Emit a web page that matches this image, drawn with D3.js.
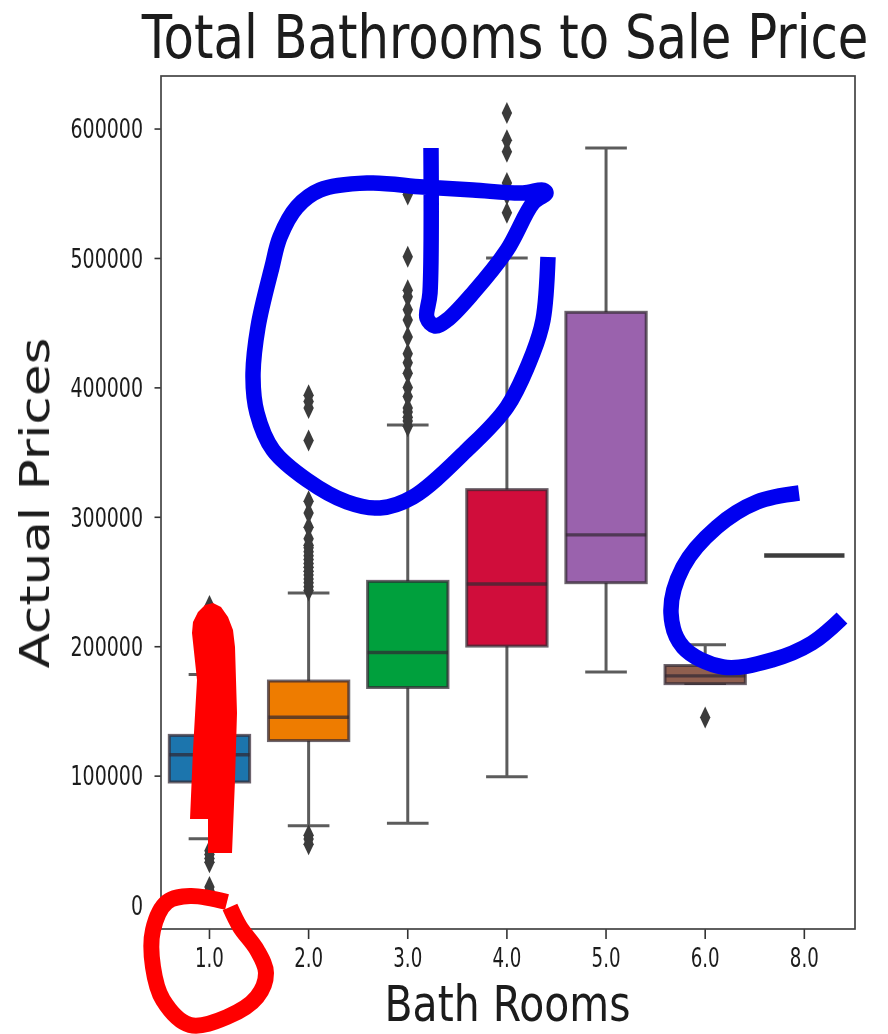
<!DOCTYPE html>
<html>
<head>
<meta charset="utf-8">
<script src="https://cdn.jsdelivr.net/npm/d3@7"></script>
<style>
  html, body { margin: 0; padding: 0; background: #fff; }
  svg { display: block; }
  text { font-family: "DejaVu Sans", sans-serif; fill: #1a1a1a; }
</style>
</head>
<body>
<div id="chart"></div>
<script>
// 1: DATA
const categories = ["1.0", "2.0", "3.0", "4.0", "5.0", "6.0", "8.0"];
const boxColors = ["#1f74ad", "#ee7b00", "#00a03e", "#d0103a", "#9a62ad", "#8f5f50", "#555555"];
const q1 = [95100, 127100, 168100, 200100, 249100, 171100, 270100];
const medians = [116100, 145100, 195100, 248100, 286000, 177100, 270100];
const q3 = [131100, 173100, 250100, 321000, 458000, 185100, 270100];
const whiskerLow = [51200, 61200, 63200, 99100, 180100, 171100, 270100];
const whiskerHigh = [178100, 241100, 371000, 500000, 585000, 201100, 270100];
const outliers = [
  [11000, 14000, 33000, 36000, 39000, 42000, 224000, 231000],
  [47000, 51000, 54000, 243000, 246000, 249000, 252000, 255000, 258000, 261000, 264000, 267000, 270000, 273000, 276000, 278000, 283000, 292000, 303000, 312000, 359000, 384000, 389000, 394000],
  [370000, 374000, 377000, 381000, 384000, 393000, 400000, 411000, 419000, 426000, 439000, 452000, 460000, 470000, 475000, 501000, 549000],
  [535000, 549000, 558000, 582000, 591000, 612000],
  [],
  [145000],
  []
];
const yTicks = [0, 100000, 200000, 300000, 400000, 500000, 600000];

// hand drawn marks over the chart, page pixels
const blueLoop = [[548,257],[543,320],[533,353],[507,407],[467,450],[413,497],[380,508],[347,502],[307,480],[273,450],[257,413],[253,377],[258,327],[272,267],[280,237],[297,207],[320,190],[367,183],[423,187],[473,190],[523,193],[543,190],[546,193],[533,203],[507,250],[473,293],[447,320],[435,326],[427,318],[430,293],[431,148]];
const blueArc = [[799,493],[757,502],[717,527],[683,567],[671,613],[683,647],[723,667],[772,660],[812,643],[842,618]];
const redCircle = [[227,902],[190,896],[167,902],[153,930],[153,967],[163,1000],[190,1025],[227,1017],[257,997],[266,973],[257,950],[240,927],[230,907]];
const redBlob = [[190,819],[208,819],[208,853],[232,853],[235,780],[237,713],[235,647],[233,630],[228,617],[221,607],[213,603],[205,605],[198,612],[193,622],[192,633],[197,680],[193,750]];

// 2: SIZES
const margin = { top: 76, right: 33, bottom: 105, left: 161 };
const width = 888 - margin.left - margin.right;
const height = 1034 - margin.top - margin.bottom;

const root = d3.select("#chart").append("svg")
    .attr("width", 888)
    .attr("height", 1034);

// the source is a blurry screenshot
root.append("defs").append("filter").attr("id", "soft")
    .append("feGaussianBlur").attr("stdDeviation", 0.55);

const plot = root.append("g")
    .attr("filter", "url(#soft)");

const svg = plot.append("g")
    .attr("transform", `translate(${margin.left},${margin.top})`);

// 3: SCALES
const xScale = d3.scaleBand()
    .domain(categories)
    .range([-1.1, width - 1.1])
    .paddingInner(0);

const yScale = d3.scaleLinear()
    .domain([-18500, 640600])
    .range([height, 0]);

const boxWidth = xScale.bandwidth() * 0.81;
const capWidth = xScale.bandwidth() * 0.42;
const lineColor = "#5c5c5c";
const darkLine = "rgba(50,40,50,0.72)";

// 4: PLOT BOXES
const groups = svg.selectAll("g.box")
    .data(categories)
    .join("g")
    .attr("class", "box")
    .attr("transform", d => `translate(${xScale(d) + xScale.bandwidth() / 2},0)`);

groups.each(function (d, i) {
    const g = d3.select(this);

    // a category with one sale has no box, only its median line
    if (q1[i] === q3[i]) {
        g.append("line")
            .attr("x1", -boxWidth / 2).attr("x2", boxWidth / 2)
            .attr("y1", yScale(medians[i])).attr("y2", yScale(medians[i]))
            .attr("stroke", "#3d3d3d")
            .attr("stroke-width", 4.4);
        return;
    }

    // whiskers
    g.append("line")
        .attr("y1", yScale(q3[i])).attr("y2", yScale(whiskerHigh[i]))
        .attr("stroke", lineColor).attr("stroke-width", 3);
    g.append("line")
        .attr("y1", yScale(q1[i])).attr("y2", yScale(whiskerLow[i]))
        .attr("stroke", lineColor).attr("stroke-width", 3);

    // caps
    [whiskerLow[i], whiskerHigh[i]].forEach(v => {
        g.append("line")
            .attr("x1", -capWidth / 2).attr("x2", capWidth / 2)
            .attr("y1", yScale(v)).attr("y2", yScale(v))
            .attr("stroke", lineColor).attr("stroke-width", 3);
    });

    g.append("rect")
        .attr("x", -boxWidth / 2)
        .attr("width", boxWidth)
        .attr("y", yScale(q3[i]))
        .attr("height", yScale(q1[i]) - yScale(q3[i]))
        .attr("fill", boxColors[i])
        .attr("stroke", darkLine)
        .attr("stroke-width", 3);

    g.append("line")
        .attr("x1", -boxWidth / 2).attr("x2", boxWidth / 2)
        .attr("y1", yScale(medians[i])).attr("y2", yScale(medians[i]))
        .attr("stroke", darkLine)
        .attr("stroke-width", 3.4);

    // outliers
    g.selectAll("path.flier")
        .data(outliers[i])
        .join("path")
        .attr("class", "flier")
        .attr("d", "M0,-11L5.2,0L0,11L-5.2,0Z")
        .attr("transform", v => `translate(0,${yScale(v)})`)
        .attr("fill", "#3b3b3b");
});

// 5: AXES
const xAxis = svg.append("g")
    .attr("transform", `translate(0,${height})`)
    .call(d3.axisBottom(xScale).tickSize(10));

const yAxis = svg.append("g")
    .call(d3.axisLeft(yScale).tickValues(yTicks).tickFormat(d3.format("d")).tickSize(6.5));

// squeeze a text sideways to the wanted width instead of using textLength
function squeeze(node, wanted) {
    return wanted / node.getComputedTextLength();
}

xAxis.selectAll("text")
    .attr("font-size", 26)
    .attr("y", 38)
    .attr("dy", 0)
    .attr("fill", "#333")
    .attr("transform", function () { return `scale(${squeeze(this, 29)},1)`; });

yAxis.selectAll("text")
    .attr("font-size", 26)
    .attr("x", 0)
    .attr("fill", "#333")
    .attr("transform", function (d) {
        return `translate(-18,1) scale(${squeeze(this, String(d).length * 12.1)},1)`;
    });

[xAxis, yAxis].forEach(a => {
    a.selectAll(".tick line").attr("stroke", "#333").attr("stroke-width", 1.6);
    a.select(".domain").remove();
});

svg.append("rect")
    .attr("width", width)
    .attr("height", height)
    .attr("fill", "none")
    .attr("stroke", "#444")
    .attr("stroke-width", 1.7);

// 6: LABELS
function addLabel(str, size, wanted, place) {
    const t = plot.append("text")
        .attr("text-anchor", "middle")
        .attr("font-size", size)
        .text(str);
    t.attr("transform", `${place} scale(${squeeze(t.node(), wanted)},1)`);
}

addLabel("Total Bathrooms to Sale Price", 61, 727, "translate(505,58)");
addLabel("Bath Rooms", 49, 246, "translate(507.5,1021)");
addLabel("Actual Prices", 41, 331, "translate(49,503) rotate(-90)");

// 7: HAND DRAWN MARKS
const scribble = d3.line().curve(d3.curveCatmullRom.alpha(0.5));

const marks = [
    { pts: blueLoop, color: "#0000f0", w: 15.5 },
    { pts: blueArc, color: "#0000f0", w: 15.5 },
    { pts: redCircle, color: "#ff0000", w: 16 }
];

root.selectAll("path.mark")
    .data(marks)
    .join("path")
    .attr("class", "mark")
    .attr("d", d => scribble(d.pts))
    .attr("fill", "none")
    .attr("stroke", d => d.color)
    .attr("stroke-width", d => d.w);

root.append("path")
    .attr("d", d3.line()(redBlob) + "Z")
    .attr("fill", "#ff0000");
</script>
</body>
</html>
